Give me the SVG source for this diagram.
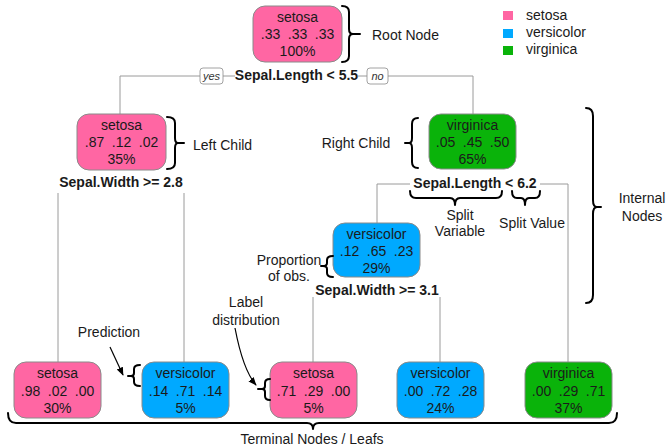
<svg xmlns="http://www.w3.org/2000/svg" width="668" height="447" viewBox="0 0 668 447">
  <style>
    text { font-family: "Liberation Sans", Arial, sans-serif; font-size: 14px; fill: #1a1a1a; }
    .c { text-anchor: middle; }
    .split { font-weight: bold; text-anchor: middle; }
    .yn { font-size: 11px; font-style: italic; text-anchor: middle; fill: #333; }
    .box { stroke: #8a8a8a; stroke-width: 1; }
    .setosa { fill: #FF66A3; }
    .versicolor { fill: #00A9FF; }
    .virginica { fill: #0AB30A; }
    .edge { fill: none; stroke: #9a9a9a; stroke-width: 1; }
    .tag { fill: #fff; stroke: #8a8a8a; stroke-width: 0.8; }
    .brace { fill: none; stroke: #000; stroke-width: 2; stroke-linejoin: round; stroke-linecap: round; }
    .pointer { fill: none; stroke: #000; stroke-width: 1.2; }
  </style>
  <defs>
    <marker id="head" viewBox="0 0 10 10" refX="9" refY="5" markerWidth="7" markerHeight="7" orient="auto">
      <path d="M0,1 L10,5 L0,9 Z" fill="#000"/>
    </marker>
  </defs>
  <rect width="668" height="447" fill="#fff"/>

  <!-- connectors -->
  <g id="connectors">
    <!-- root split -->
    <path class="edge" d="M120,114 V76 H200 M223,76 H235 M358,76 H367 M388,76 H473 V114"/>
    <!-- left child split -->
    <path class="edge" d="M58,193 V362 M184,193 V362"/>
    <!-- right child split -->
    <path class="edge" d="M377,223 V184 H410 M540,184 H568 V363"/>
    <!-- versicolor split -->
    <path class="edge" d="M313,297 V363 M440,297 V363"/>
    <rect class="tag" x="200" y="68" width="23" height="16" rx="3"/>
    <text class="yn" x="211.5" y="80">yes</text>
    <rect class="tag" x="367" y="68" width="21" height="16" rx="3"/>
    <text class="yn" x="377.5" y="80">no</text>
  </g>

  <!-- split labels -->
  <text class="split" x="296.5" y="80">Sepal.Length &lt; 5.5</text>
  <text class="split" x="121" y="187">Sepal.Width &gt;= 2.8</text>
  <text class="split" x="475" y="188">Sepal.Length &lt; 6.2</text>
  <text class="split" x="377" y="295">Sepal.Width &gt;= 3.1</text>

  <!-- nodes -->
  <g id="root">
    <rect class="box setosa" x="253" y="6" width="89" height="56" rx="12"/>
    <text class="c" x="297.5" y="22">setosa</text>
    <text class="c" y="39"><tspan x="270.5">.33</tspan><tspan x="297.5">.33</tspan><tspan x="324.5">.33</tspan></text>
    <text class="c" x="297.5" y="56">100%</text>
  </g>
  <g id="left-child">
    <rect class="box setosa" x="77" y="114" width="89" height="56" rx="12"/>
    <text class="c" x="121.5" y="130">setosa</text>
    <text class="c" y="147"><tspan x="94.5">.87</tspan><tspan x="121.5">.12</tspan><tspan x="148.5">.02</tspan></text>
    <text class="c" x="121.5" y="164">35%</text>
  </g>
  <g id="right-child">
    <rect class="box virginica" x="429" y="114" width="87" height="55" rx="12"/>
    <text class="c" x="472.5" y="130">virginica</text>
    <text class="c" y="147"><tspan x="445.5">.05</tspan><tspan x="472.5">.45</tspan><tspan x="499.5">.50</tspan></text>
    <text class="c" x="472.5" y="164">65%</text>
  </g>
  <g id="inner-versicolor">
    <rect class="box versicolor" x="333" y="223" width="87" height="54" rx="12"/>
    <text class="c" x="376.5" y="239">versicolor</text>
    <text class="c" y="256"><tspan x="349.5">.12</tspan><tspan x="376.5">.65</tspan><tspan x="403.5">.23</tspan></text>
    <text class="c" x="376.5" y="273">29%</text>
  </g>
  <g id="leaf-1">
    <rect class="box setosa" x="14" y="362" width="87" height="56" rx="12"/>
    <text class="c" x="57.5" y="378">setosa</text>
    <text class="c" y="395.5"><tspan x="30.5">.98</tspan><tspan x="57.5">.02</tspan><tspan x="84.5">.00</tspan></text>
    <text class="c" x="57.5" y="412.5">30%</text>
  </g>
  <g id="leaf-2">
    <rect class="box versicolor" x="142" y="362" width="87" height="56" rx="12"/>
    <text class="c" x="185.5" y="378">versicolor</text>
    <text class="c" y="395.5"><tspan x="158.5">.14</tspan><tspan x="185.5">.71</tspan><tspan x="212.5">.14</tspan></text>
    <text class="c" x="185.5" y="412.5">5%</text>
  </g>
  <g id="leaf-3">
    <rect class="box setosa" x="270" y="362" width="87" height="56" rx="12"/>
    <text class="c" x="313.5" y="378">setosa</text>
    <text class="c" y="395.5"><tspan x="286.5">.71</tspan><tspan x="313.5">.29</tspan><tspan x="340.5">.00</tspan></text>
    <text class="c" x="313.5" y="412.5">5%</text>
  </g>
  <g id="leaf-4">
    <rect class="box versicolor" x="397" y="362" width="87" height="56" rx="12"/>
    <text class="c" x="440.5" y="378">versicolor</text>
    <text class="c" y="395.5"><tspan x="413.5">.00</tspan><tspan x="440.5">.72</tspan><tspan x="467.5">.28</tspan></text>
    <text class="c" x="440.5" y="412.5">24%</text>
  </g>
  <g id="leaf-5">
    <rect class="box virginica" x="525" y="362" width="87" height="56" rx="12"/>
    <text class="c" x="568.5" y="378">virginica</text>
    <text class="c" y="395.5"><tspan x="541.5">.00</tspan><tspan x="568.5">.29</tspan><tspan x="595.5">.71</tspan></text>
    <text class="c" x="568.5" y="412.5">37%</text>
  </g>

  <!-- legend -->
  <g id="legend">
    <rect class="setosa" x="503" y="11" width="10" height="9"/>
    <rect class="versicolor" x="503" y="29" width="10" height="9"/>
    <rect class="virginica" x="503" y="46" width="10" height="9"/>
    <text x="526" y="20">setosa</text>
    <text x="526" y="37">versicolor</text>
    <text x="526" y="54">virginica</text>
  </g>

  <!-- annotations -->
  <g id="annotations">
    <!-- Root Node -->
    <path class="brace" d="M342,6 Q349,6 349,12 V29 Q349,34 353,34 Q349,34 349,39 V56 Q349,62 342,62 M353,34 H360"/>
    <text x="372" y="40">Root Node</text>
    <!-- Left Child -->
    <path class="brace" d="M167,117 Q175,117 175,123 V138 Q175,143 178,143 Q175,143 175,148 V163 Q175,169 167,169 M178,143 H184"/>
    <text x="193" y="150">Left Child</text>
    <!-- Right Child -->
    <path class="brace" d="M418,118 Q412,118 412,124 V138 Q412,143 409,143 Q412,143 412,148 V162 Q412,168 418,168 M409,143 H405"/>
    <text class="c" x="356" y="148">Right Child</text>
    <!-- Split Variable / Split Value -->
    <path class="brace" d="M410,191 Q410,198 416,198 H450 Q455,198 455,205 Q455,198 460,198 H496 Q502,198 502,191"/>
    <path class="brace" d="M512,191 Q512,198 517,198 H521 Q525,198 525,205 Q525,198 529,198 H535 Q540,198 540,191"/>
    <text class="c" x="460" y="220">Split</text>
    <text class="c" x="460" y="236">Variable</text>
    <text class="c" x="532" y="228">Split Value</text>
    <!-- Internal Nodes -->
    <path class="brace" d="M586,108 Q593,108 593,116 V200 Q593,207 597,207 Q593,207 593,214 V295 Q593,303 586,303 M597,207 H601"/>
    <text class="c" x="642" y="203">Internal</text>
    <text class="c" x="642" y="221">Nodes</text>
    <!-- Proportion of obs. -->
    <path class="brace" d="M333,256 Q327,256 327,260 V263 Q327,266 323,266 Q327,266 327,269 V273 Q327,277 333,277 M323,266 H321"/>
    <text class="c" x="289" y="265">Proportion</text>
    <text class="c" x="289" y="281">of obs.</text>
    <!-- Prediction -->
    <path class="brace" d="M140,365 Q134,365 134,369 V373 Q134,376 131,376 Q134,376 134,379 V382 Q134,386 140,386 M131,376 H128"/>
    <text class="c" x="109" y="337">Prediction</text>
    <path class="pointer" d="M110,347 L123,375" marker-end="url(#head)"/>
    <!-- Label distribution -->
    <path class="brace" d="M270,379 Q265,379 265,383 V386 Q265,389 262,389 Q265,389 265,392 V396 Q265,400 270,400 M262,389 H258"/>
    <text class="c" x="246" y="307">Label</text>
    <text class="c" x="246" y="325">distribution</text>
    <path class="pointer" d="M235,328 Q243,370 256,385" marker-end="url(#head)"/>
    <!-- Terminal Nodes / Leafs -->
    <path class="brace" d="M8,413 Q8,423 16,423 H307 Q313,423 313,429 Q313,423 319,423 H609 Q617,423 617,413"/>
    <text class="c" x="312" y="444">Terminal Nodes / Leafs</text>
  </g>
</svg>
